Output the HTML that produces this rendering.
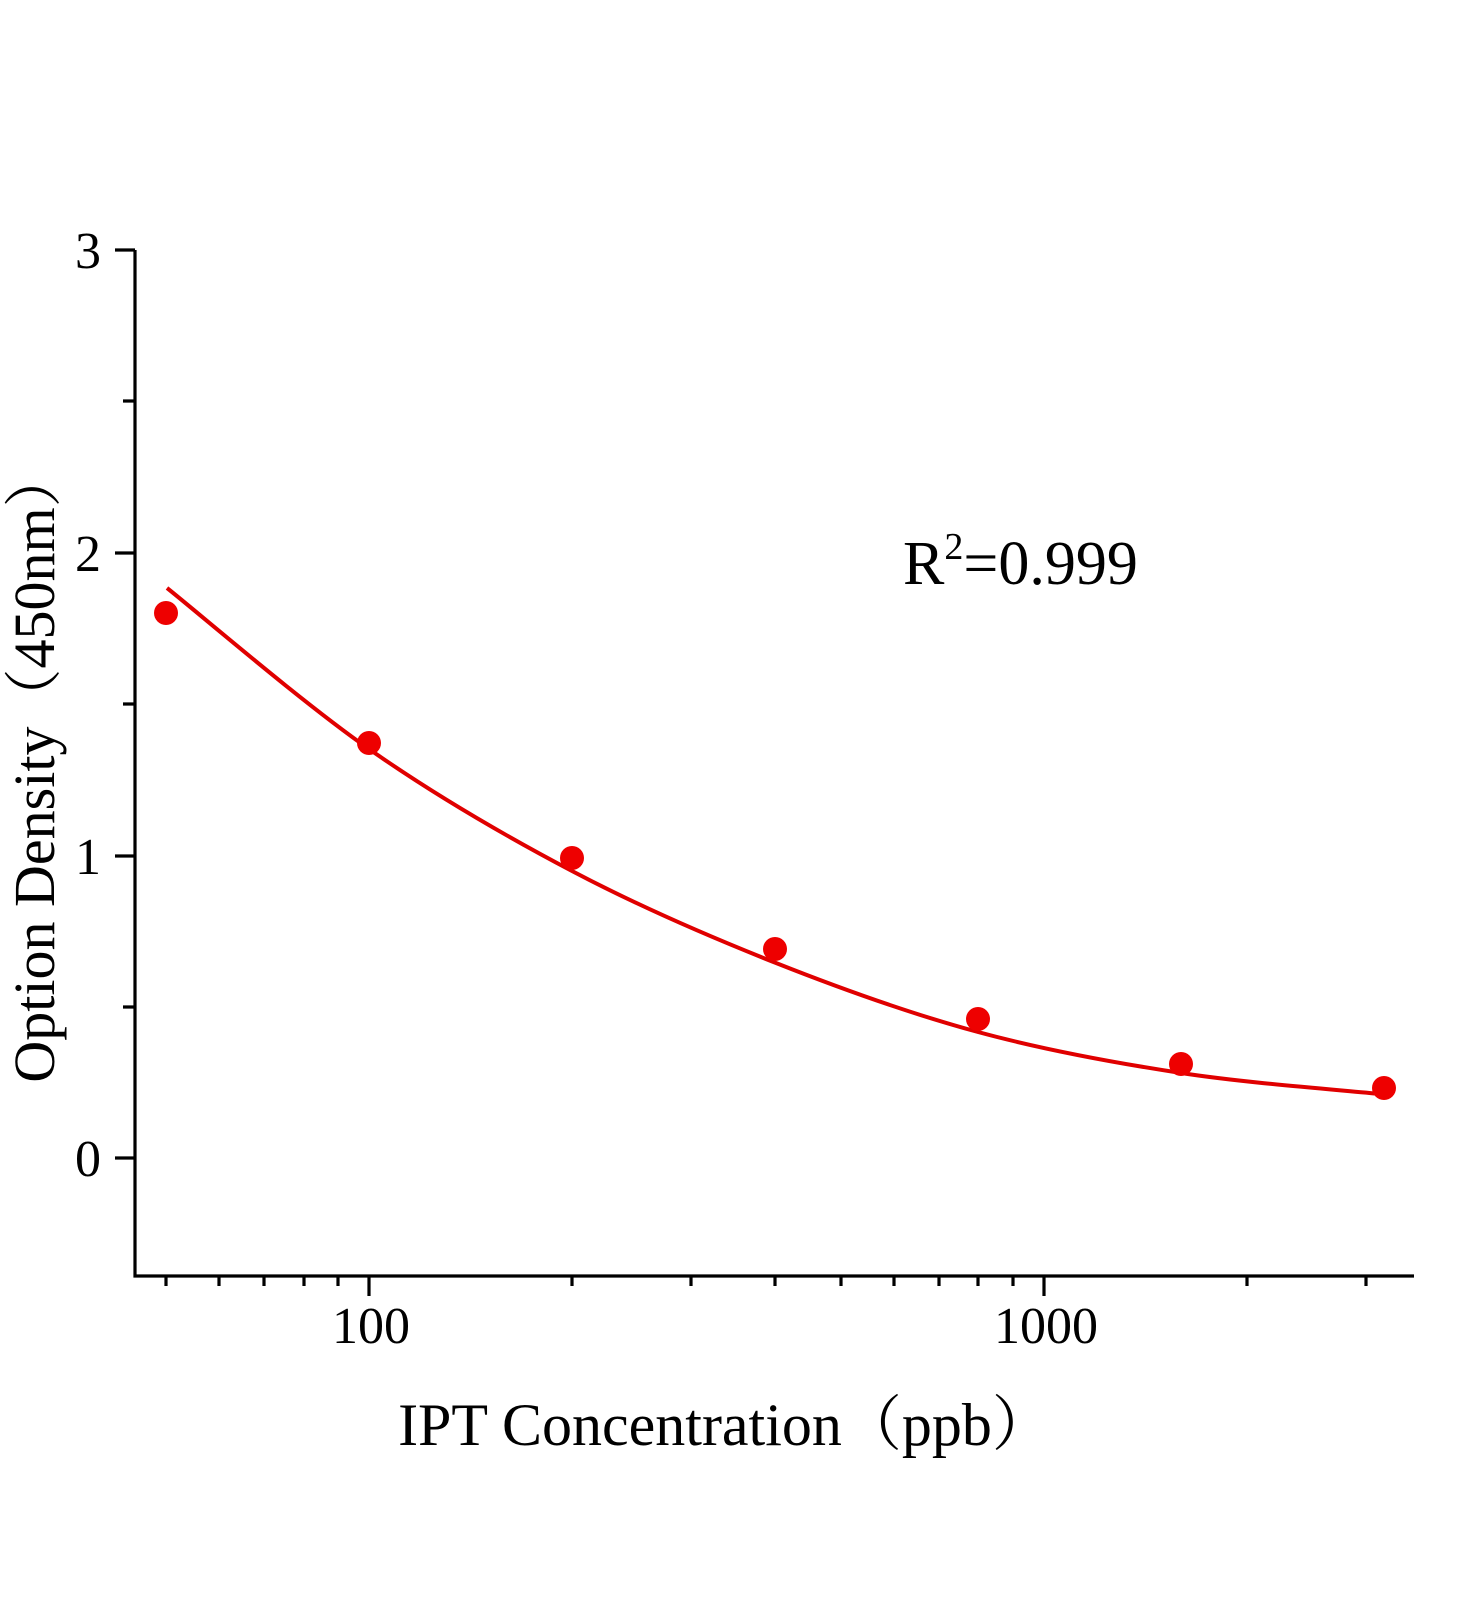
<!DOCTYPE html>
<html><head><meta charset="utf-8"><style>html,body{margin:0;padding:0;background:#fff}</style></head>
<body>
<svg width="1472" height="1600" xmlns="http://www.w3.org/2000/svg" font-family="'Liberation Serif','Noto Serif CJK SC',serif">
<rect width="1472" height="1600" fill="#fff"/>
<g stroke="#000" stroke-width="3.2" fill="none">
<path d="M135,250 V1276 H1414"/>
<path d="M115,250H135M115,553H135M115,856H135M115,1158H135"/>
<path d="M123,401H135M123,704H135M123,1007H135"/>
<path d="M369,1276v20M1044,1276v20"/>
<path d="M166,1276v10M219,1276v10M264,1276v10M304,1276v10M338,1276v10M572,1276v10M691,1276v10M775,1276v10M841,1276v10M894,1276v10M939,1276v10M978,1276v10M1013,1276v10M1247,1276v10M1366,1276v10"/>
</g>
<g font-size="52" fill="#000" text-anchor="end">
<text x="101" y="268">3</text><text x="101" y="571">2</text><text x="101" y="874">1</text><text x="101" y="1176">0</text>
</g>
<g font-size="52" fill="#000" text-anchor="middle">
<text x="371" y="1343">100</text><text x="1046" y="1343">1000</text>
</g>
<text x="725" y="1445" font-size="60" text-anchor="middle">IPT Concentration（ppb）</text>
<text transform="translate(54,766) rotate(-90)" font-size="58" text-anchor="middle">Option Density（450nm）</text>
<text x="903" y="584" font-size="62">R<tspan font-size="38" dy="-25">2</tspan><tspan dy="25">=0.999</tspan></text>
<path d="M167,588 C200.7,614.8 301.5,701.8 369,749 C436.5,796.2 504.2,835.3 572,871 C639.8,906.7 708.3,936.2 776,963 C843.7,989.8 910.5,1013.7 978,1032 C1045.5,1050.3 1114,1062.7 1181,1073 C1248,1083.3 1346.8,1090.5 1380,1094" stroke="#e00000" stroke-width="4" fill="none"/>
<g fill="#ee0000">
<circle cx="166" cy="613" r="12"/><circle cx="369" cy="743" r="12"/><circle cx="572" cy="858" r="12"/>
<circle cx="775" cy="949" r="12"/><circle cx="978" cy="1019" r="12"/><circle cx="1181" cy="1064" r="12"/><circle cx="1384" cy="1088" r="12"/>
</g>
</svg>
</body></html>
